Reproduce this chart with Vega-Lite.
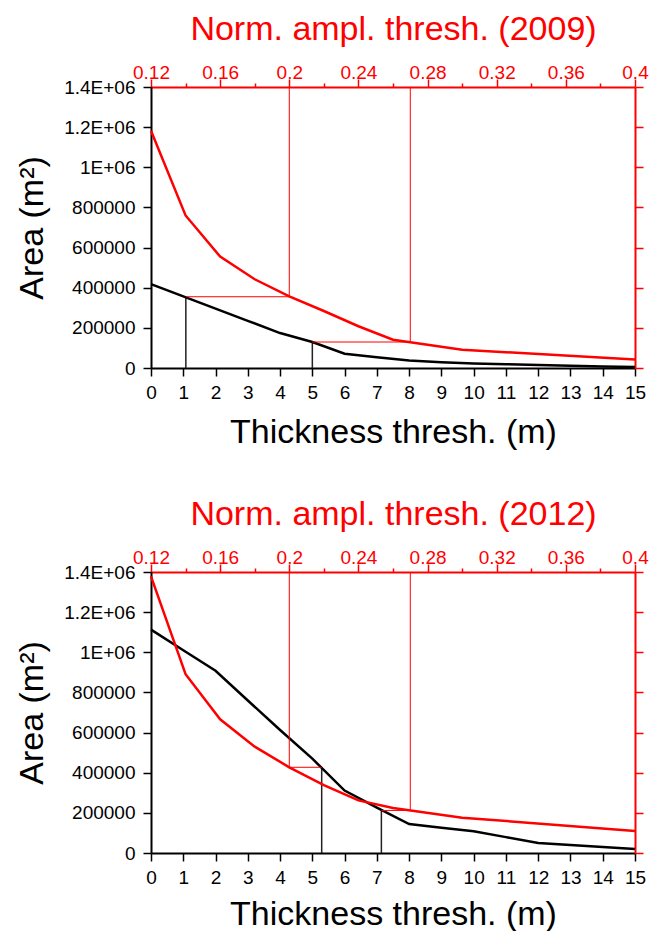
{
  "$schema": "https://vega.github.io/schema/vega-lite/v6.json",
  "padding": {"left": 15, "top": 12, "right": 5, "bottom": 0},
  "spacing": 48,
  "config": {
    "view": {"stroke": null},
    "font": "Liberation Sans",
    "axis": {"grid": false, "titleFontWeight": "normal", "labelFontSize": 19, "titleFontSize": 34, "labelFont": "Liberation Sans", "titleFont": "Liberation Sans"}
  },
  "datasets": {
    "b09": [
      {"t": 0, "area": 418000}, {"t": 1, "area": 357000}, {"t": 2, "area": 296000}, {"t": 3, "area": 235000},
      {"t": 4, "area": 174000}, {"t": 5, "area": 129500}, {"t": 6, "area": 71000}, {"t": 7, "area": 54000},
      {"t": 8, "area": 37000}, {"t": 9, "area": 29000}, {"t": 10, "area": 23000}, {"t": 11, "area": 19000},
      {"t": 12, "area": 15000}, {"t": 13, "area": 11000}, {"t": 14, "area": 8000}, {"t": 15, "area": 4500}
    ],
    "bv09": [{"t": 1.08, "area": 355000}, {"t": 5.0, "area": 129500}],
    "r09": [
      {"a": 0.12, "area": 1182000}, {"a": 0.14, "area": 760000}, {"a": 0.16, "area": 555000}, {"a": 0.18, "area": 442000},
      {"a": 0.2, "area": 357000}, {"a": 0.22, "area": 284000}, {"a": 0.24, "area": 208000}, {"a": 0.26, "area": 141000},
      {"a": 0.3, "area": 91000}, {"a": 0.4, "area": 42000}
    ],
    "rv09": [{"a": 0.2, "area": 355000}, {"a": 0.27, "area": 129500}],
    "rh09": [{"a": 0.1404, "a2": 0.2, "area": 355000}, {"a": 0.2133, "a2": 0.27, "area": 129500}],
    "b12": [
      {"t": 0, "area": 1113000}, {"t": 1, "area": 1010000}, {"t": 2, "area": 908000}, {"t": 3, "area": 760000},
      {"t": 4, "area": 613000}, {"t": 5, "area": 470000}, {"t": 6, "area": 311000}, {"t": 7, "area": 226000},
      {"t": 8, "area": 144000}, {"t": 9, "area": 126000}, {"t": 10, "area": 108000}, {"t": 11, "area": 79000},
      {"t": 12, "area": 50000}, {"t": 13, "area": 40000}, {"t": 14, "area": 30000}, {"t": 15, "area": 20000}
    ],
    "bv12": [{"t": 5.29, "area": 427000}, {"t": 7.14, "area": 212000}],
    "r12": [
      {"a": 0.12, "area": 1378000}, {"a": 0.14, "area": 891000}, {"a": 0.16, "area": 666000}, {"a": 0.18, "area": 530000},
      {"a": 0.2, "area": 427000}, {"a": 0.22, "area": 338000}, {"a": 0.24, "area": 262000}, {"a": 0.26, "area": 224000},
      {"a": 0.3, "area": 176000}, {"a": 0.4, "area": 110000}
    ],
    "rv12": [{"a": 0.2, "area": 427000}, {"a": 0.27, "area": 212000}],
    "rh12": [{"a": 0.2, "a2": 0.2187, "area": 427000}, {"a": 0.2533, "a2": 0.27, "area": 212000}]
  },
  "vconcat": [
    {
      "width": 484, "height": 281,
      "resolve": {"scale": {"x": "independent", "y": "independent"}},
      "layer": [
        {
          "encoding": {
            "x": {"field": "t", "type": "quantitative", "scale": {"domain": [0, 15], "nice": false, "zero": false},
              "axis": {"orient": "bottom", "values": [0,1,2,3,4,5,6,7,8,9,10,11,12,13,14,15], "title": "Thickness thresh. (m)",
                "domainColor": "black", "domainWidth": 2, "tickColor": "black", "tickWidth": 1.5, "tickSize": 8,
                "labelFontSize": 19, "titleFontSize": 34,
                "labelColor": "black", "labelPadding": 7, "titleColor": "black", "titlePadding": 13, "labelFlush": false, "labelOverlap": false}},
            "y": {"field": "area", "type": "quantitative", "scale": {"domain": [0, 1400000], "nice": false},
              "axis": {"orient": "left", "values": [0,200000,400000,600000,800000,1000000,1200000,1400000], "title": "Area (m²)",
                "labelExpr": "datum.value >= 1000000 ? format(datum.value/1000000, '~g') + 'E+06' : format(datum.value, 'd')",
                "domainColor": "black", "domainWidth": 2, "tickColor": "black", "tickWidth": 1.5, "tickSize": 8,
                "labelFontSize": 19, "titleFontSize": 34,
                "labelColor": "black", "labelPadding": 8, "titleColor": "black", "titlePadding": 14, "labelFlush": false, "labelOverlap": false}}
          },
          "layer": [
            {"data": {"name": "bv09"}, "mark": {"type": "rule", "color": "#222222", "strokeWidth": 1.5}, "encoding": {"y2": {"datum": 0}}},
            {"data": {"name": "b09"}, "mark": {"type": "line", "color": "black", "strokeWidth": 2.5}}
          ]
        },
        {
          "encoding": {
            "x": {"field": "a", "type": "quantitative", "scale": {"domain": [0.12, 0.4], "nice": false, "zero": false},
              "axis": {"orient": "top", "values": [0.12,0.14,0.16,0.18,0.2,0.22,0.24,0.26,0.28,0.3,0.32,0.34,0.36,0.38,0.4],
                "labelExpr": "round(datum.value*100) % 4 == 0 ? format(datum.value, '~g') : ''",
                "title": "Norm. ampl. thresh. (2009)", "domainColor": "red", "domainWidth": 2, "tickColor": "red", "tickWidth": 1.5,
                "tickSize": {"condition": {"test": "round(datum.value*100) % 4 == 0", "value": 8}, "value": 4},
                "labelFontSize": 19, "titleFontSize": 34,
                "labelColor": "red", "labelPadding": -3, "titleColor": "red", "titlePadding": 17, "labelFlush": false, "labelOverlap": false}},
            "y": {"field": "area", "type": "quantitative", "scale": {"domain": [0, 1400000], "nice": false},
              "axis": {"orient": "right", "values": [0,200000,400000,600000,800000,1000000,1200000,1400000], "labels": false, "title": null,
                "domainColor": "red", "domainWidth": 2, "tickColor": "red", "tickWidth": 1.5, "tickSize": 8}}
          },
          "layer": [
            {"data": {"name": "rv09"}, "mark": {"type": "rule", "color": "red", "strokeWidth": 1}, "encoding": {"y2": {"datum": 1400000}}},
            {"data": {"name": "rh09"}, "mark": {"type": "rule", "color": "red", "strokeWidth": 1}, "encoding": {"x2": {"field": "a2"}}},
            {"data": {"name": "r09"}, "mark": {"type": "line", "color": "red", "strokeWidth": 2.5}}
          ]
        }
      ]
    },
    {
      "width": 484, "height": 281,
      "resolve": {"scale": {"x": "independent", "y": "independent"}},
      "layer": [
        {
          "encoding": {
            "x": {"field": "t", "type": "quantitative", "scale": {"domain": [0, 15], "nice": false, "zero": false},
              "axis": {"orient": "bottom", "values": [0,1,2,3,4,5,6,7,8,9,10,11,12,13,14,15], "title": "Thickness thresh. (m)",
                "domainColor": "black", "domainWidth": 2, "tickColor": "black", "tickWidth": 1.5, "tickSize": 8,
                "labelFontSize": 19, "titleFontSize": 34,
                "labelColor": "black", "labelPadding": 7, "titleColor": "black", "titlePadding": 10, "labelFlush": false, "labelOverlap": false}},
            "y": {"field": "area", "type": "quantitative", "scale": {"domain": [0, 1400000], "nice": false},
              "axis": {"orient": "left", "values": [0,200000,400000,600000,800000,1000000,1200000,1400000], "title": "Area (m²)",
                "labelExpr": "datum.value >= 1000000 ? format(datum.value/1000000, '~g') + 'E+06' : format(datum.value, 'd')",
                "domainColor": "black", "domainWidth": 2, "tickColor": "black", "tickWidth": 1.5, "tickSize": 8,
                "labelFontSize": 19, "titleFontSize": 34,
                "labelColor": "black", "labelPadding": 8, "titleColor": "black", "titlePadding": 14, "labelFlush": false, "labelOverlap": false}}
          },
          "layer": [
            {"data": {"name": "bv12"}, "mark": {"type": "rule", "color": "#222222", "strokeWidth": 1.5}, "encoding": {"y2": {"datum": 0}}},
            {"data": {"name": "b12"}, "mark": {"type": "line", "color": "black", "strokeWidth": 2.5}}
          ]
        },
        {
          "encoding": {
            "x": {"field": "a", "type": "quantitative", "scale": {"domain": [0.12, 0.4], "nice": false, "zero": false},
              "axis": {"orient": "top", "values": [0.12,0.14,0.16,0.18,0.2,0.22,0.24,0.26,0.28,0.3,0.32,0.34,0.36,0.38,0.4],
                "labelExpr": "round(datum.value*100) % 4 == 0 ? format(datum.value, '~g') : ''",
                "title": "Norm. ampl. thresh. (2012)", "domainColor": "red", "domainWidth": 2, "tickColor": "red", "tickWidth": 1.5,
                "tickSize": {"condition": {"test": "round(datum.value*100) % 4 == 0", "value": 8}, "value": 4},
                "labelFontSize": 19, "titleFontSize": 34,
                "labelColor": "red", "labelPadding": -3, "titleColor": "red", "titlePadding": 17, "labelFlush": false, "labelOverlap": false}},
            "y": {"field": "area", "type": "quantitative", "scale": {"domain": [0, 1400000], "nice": false},
              "axis": {"orient": "right", "values": [0,200000,400000,600000,800000,1000000,1200000,1400000], "labels": false, "title": null,
                "domainColor": "red", "domainWidth": 2, "tickColor": "red", "tickWidth": 1.5, "tickSize": 8}}
          },
          "layer": [
            {"data": {"name": "rv12"}, "mark": {"type": "rule", "color": "red", "strokeWidth": 1}, "encoding": {"y2": {"datum": 1400000}}},
            {"data": {"name": "rh12"}, "mark": {"type": "rule", "color": "red", "strokeWidth": 1}, "encoding": {"x2": {"field": "a2"}}},
            {"data": {"name": "r12"}, "mark": {"type": "line", "color": "red", "strokeWidth": 2.5}}
          ]
        }
      ]
    }
  ]
}
